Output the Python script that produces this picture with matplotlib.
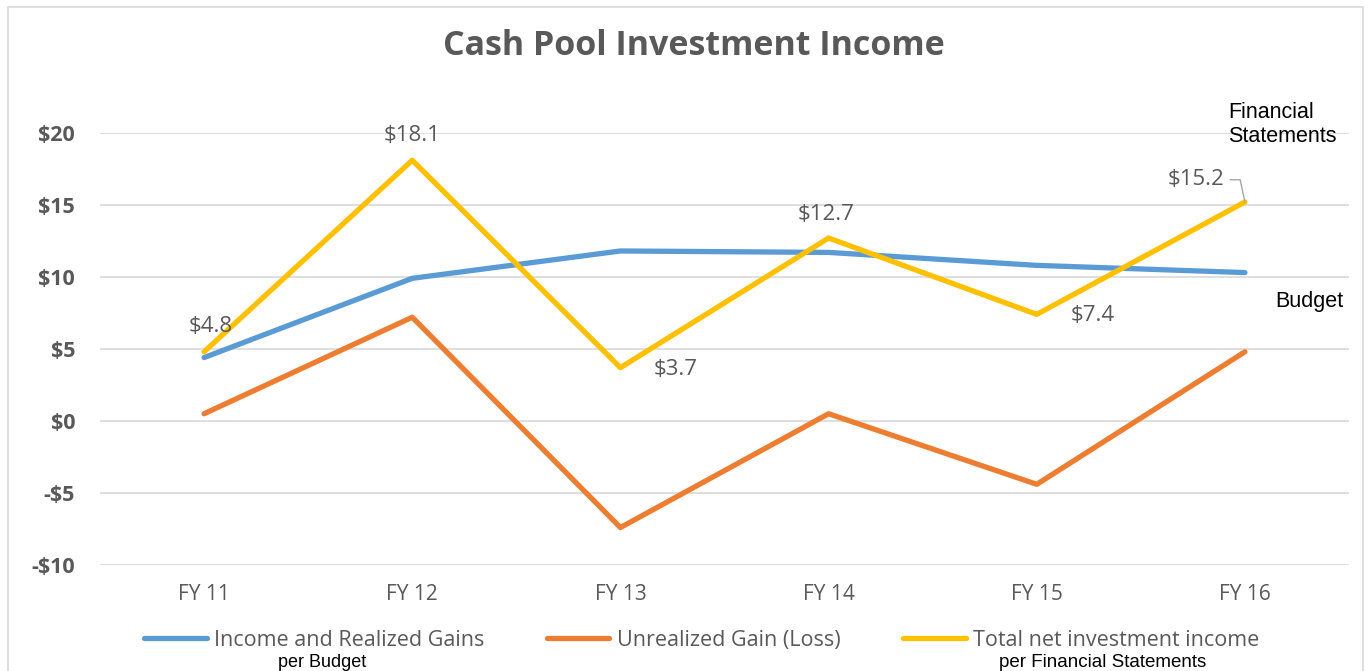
import matplotlib.pyplot as plt
from matplotlib.patches import Rectangle

categories = ['FY 11', 'FY 12', 'FY 13', 'FY 14', 'FY 15', 'FY 16']
income_realized = [4.4, 9.9, 11.8, 11.7, 10.8, 10.3]
unrealized = [0.5, 7.2, -7.4, 0.5, -4.4, 4.8]
total_net = [4.8, 18.1, 3.7, 12.7, 7.4, 15.2]
y_ticks = [-10, -5, 0, 5, 10, 15, 20]
y_labels = ['-$10', '-$5', '$0', '$5', '$10', '$15', '$20']

blue = '#5B9BD5'
orange = '#ED7D31'
gold = '#FFC000'
gray = '#595959'

fig = plt.figure(figsize=(13.68, 6.71), dpi=100)
ax = fig.add_axes([0.0731, 0.158, 0.913, 0.644])

x = list(range(len(categories)))
l1, = ax.plot(x, income_realized, color=blue, lw=3.8, solid_capstyle='round', label='Income and Realized Gains')
l2, = ax.plot(x, unrealized, color=orange, lw=3.8, solid_capstyle='round', label='Unrealized Gain (Loss)')
l3, = ax.plot(x, total_net, color=gold, lw=3.8, solid_capstyle='round', label='Total net investment income')

ax.set_xlim(-0.5, len(categories) - 0.5)
ax.set_ylim(-10, 20)
ax.set_yticks(y_ticks)
ax.set_yticklabels(y_labels, fontsize=15.5, fontweight='bold', color=gray, family='Open Sans')
ax.set_xticks(x)
ax.set_xticklabels(categories, fontsize=15, color=gray, family='Open Sans')
ax.tick_params(length=0)
ax.tick_params(axis='y', pad=18)
ax.tick_params(axis='x', pad=14)
ax.grid(axis='y', color='#D9D9D9', lw=1.2)
ax.set_axisbelow(True)
for s in ax.spines.values():
  s.set_visible(False)

# data labels on total line
offsets = [(5, 18), (0, 18), (40, -1), (-2, 17), (40, -1), (-35, 16)]
for i, v in enumerate(total_net):
  txt = '$%.1f' % v
  dx, dy = offsets[i]
  if i == 5:
    ax.annotate(txt, xy=(i, v), xytext=(dx, dy), textcoords='offset points',
                ha='center', va='center', fontsize=16, color=gray, family='Open Sans',
                arrowprops=dict(arrowstyle='-', color='#A6A6A6', lw=1,
                                shrinkA=2, shrinkB=0,
                                relpos=(1.0, 0.5),
                                connectionstyle='angle,angleA=0,angleB=102,rad=0'))
  else:
    ax.annotate(txt, xy=(i, v), xytext=(dx, dy), textcoords='offset points',
                ha='center', va='center', fontsize=16, color=gray, family='Open Sans')

fig.text(0.507, 0.932, 'Cash Pool Investment Income', ha='center', va='center',
         fontsize=24.5, fontweight='bold', color=gray, family='Open Sans')

fig.text(0.8977, 0.814, 'Financial\nStatements', ha='left', va='center',
         fontsize=15.5, color='black', family='Liberation Sans', linespacing=1.2)
fig.text(0.957, 0.551, 'Budget', ha='center', va='center',
         fontsize=15.5, color='black', family='Liberation Sans')

leg = fig.legend(handles=[l1, l2, l3], loc='center', bbox_to_anchor=(0.513, 0.046),
                 ncol=3, frameon=False, handlelength=2.9, handletextpad=0.35,
                 columnspacing=2.9, prop={'family': 'Open Sans', 'size': 15.5})
for t in leg.get_texts():
  t.set_color(gray)

fig.text(0.2354, 0.013, 'per Budget', ha='center', va='center',
         fontsize=13, color='black', family='Liberation Sans')
fig.text(0.806, 0.013, 'per Financial Statements', ha='center', va='center',
         fontsize=13.5, color='black', family='Liberation Sans')

fig.patches.append(Rectangle((0.006, -0.01), 0.99, 1.0, transform=fig.transFigure,
                             fill=False, edgecolor='#D9D9D9', lw=1.2))

fig.savefig('out.png', dpi=100)
